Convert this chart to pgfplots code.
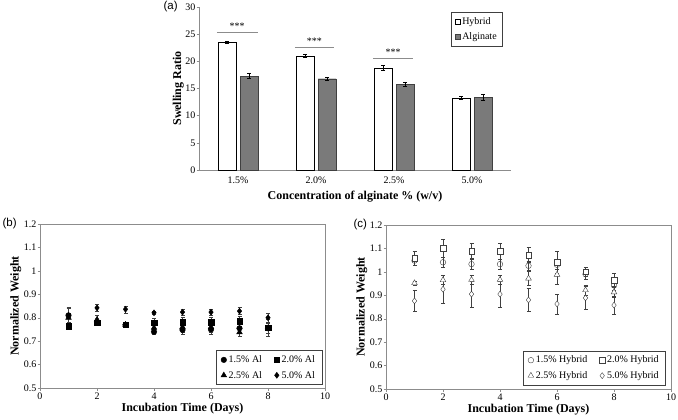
\documentclass[border=0pt]{standalone}
\usepackage{pgfplots}
\pgfplotsset{compat=1.18}
\usepackage{fontspec}
\setmainfont{Liberation Serif}
\newfontfamily\arialfont{Liberation Sans}
\definecolor{axgray}{HTML}{8C8C8C}
\definecolor{bargray}{HTML}{7A7A7A}
\definecolor{mkgray}{HTML}{404040}
\pgfplotsset{
  every axis/.append style={
    scale only axis,
    /pgf/number format/assume math mode=true,
    tick label style={font=\fontsize{10}{11}\selectfont},
    yticklabel style={inner xsep=1pt},
    xticklabel style={inner ysep=2pt},
    label style={font=\fontsize{12}{13}\selectfont\bfseries},
    tick align=outside,
    major tick length=2.5pt,
    every tick/.style={axgray},
  },
  ebar/.style={error bars/.cd, y dir=both, y explicit,
    error bar style={#1, line width=0.5pt},
    error mark options={rotate=90, mark size=2pt, #1, line width=0.5pt}},
}
\begin{document}
\begin{tikzpicture}
\useasboundingbox (0pt,0pt) rectangle (678pt,-420pt);
% ---------------- (a)
\begin{axis}[
  at={(199pt,-170pt)}, anchor=south west,
  width=312pt, height=163pt,
  ybar=4pt, bar width=18pt,
  xmin=-0.5, xmax=3.5, ymin=0, ymax=30,
  xtick={0,1,2,3}, xticklabels={1.5\%,2.0\%,2.5\%,5.0\%},
  minor xtick={-0.5,0.5,1.5,2.5,3.5},
  x tick style={draw=none}, minor x tick style={axgray},
  minor tick length=2.5pt,
  xticklabel style={inner ysep=4pt},
  ytick={0,5,10,15,20,25,30},
  axis x line*=bottom, axis y line*=left,
  axis line style={axgray},
  xlabel={Concentration of alginate \% (w/v)},
  ylabel={Swelling Ratio},
  xlabel style={yshift=0pt},
  ylabel style={yshift=-3pt},
  legend style={at={(0.974,0.97)}, anchor=north east, draw=mkgray,
    font=\fontsize{10}{11}\selectfont, row sep=3pt, inner xsep=4pt, inner ysep=3pt,
    cells={anchor=west}},
  legend image code/.code={\draw[#1] (0pt,-2.5pt) rectangle (5pt,2.5pt);},
]
\addplot[fill=white, draw=black, ebar=black] coordinates {
  (0,23.5) +- (0,0.2) (1,21.0) +- (0,0.3) (2,18.8) +- (0,0.4) (3,13.3) +- (0,0.3)};
\addplot[fill=bargray, draw=mkgray, ebar=black] coordinates {
  (0,17.3) +- (0,0.5) (1,16.8) +- (0,0.3) (2,15.8) +- (0,0.3) (3,13.4) +- (0,0.5)};
\legend{Hybrid, Alginate}
\draw[axgray] (axis cs:-0.27,25.3) -- (axis cs:0.25,25.3);
\draw[axgray] (axis cs:0.73,22.65) -- (axis cs:1.23,22.65);
\draw[axgray] (axis cs:1.73,20.5) -- (axis cs:2.24,20.5);
\node[font=\fontsize{10}{11}\selectfont] at (axis cs:-0.01,26.4) {***};
\node[font=\fontsize{10}{11}\selectfont] at (axis cs:0.98,23.75) {***};
\node[font=\fontsize{10}{11}\selectfont] at (axis cs:1.99,21.6) {***};
\end{axis}
\node[font=\arialfont\fontsize{11.5}{12}\selectfont, anchor=west] at (160pt,-7pt) {(a)};
% ---------------- (b)
\begin{axis}[
  at={(40pt,-388pt)}, anchor=south west,
  width=285pt, height=164pt,
  xmin=0, xmax=10, ymin=0.5, ymax=1.2,
  xtick={0,2,4,6,8,10},
  ytick={0.5,0.6,0.7,0.8,0.9,1,1.1,1.2},
  tick pos=left,
  axis line style={axgray},
  xlabel={Incubation Time (Days)},
  ylabel={Normalized Weight},
  xlabel style={yshift=2pt},
  ylabel style={yshift=-2pt},
  legend columns=2,
  legend style={at={(0.99,0.02)}, anchor=south east, draw=mkgray,
    font=\fontsize{10}{11}\selectfont, /tikz/every even column/.append style={column sep=10pt},
    row sep=3pt, inner xsep=5pt, inner ysep=3pt, cells={anchor=west}},
]
\addplot[only marks, mark=*, mark size=2.8pt, black, ebar=mkgray] coordinates {
 (1,0.810) +- (0,0.030) (2,0.780) +- (0,0.010) (3,0.770) +- (0,0.010) (4,0.740) +- (0,0.010)
 (5,0.748) +- (0,0.020) (6,0.750) +- (0,0.020) (7,0.755) +- (0,0.020) (8,0.755) +- (0,0.020)};
\addplot[only marks, mark=square*, mark size=2.8pt, black, ebar=mkgray] coordinates {
 (1,0.764) +- (0,0.010) (2,0.778) +- (0,0.010) (3,0.770) +- (0,0.010) (4,0.778) +- (0,0.020)
 (5,0.781) +- (0,0.020) (6,0.781) +- (0,0.020) (7,0.785) +- (0,0.020) (8,0.757) +- (0,0.035)};
\addplot[only marks, mark=triangle*, mark size=3.3pt, black, ebar=mkgray] coordinates {
 (1,0.800) +- (0,0.020) (2,0.792) +- (0,0.020) (3,0.770) +- (0,0.010) (4,0.757) +- (0,0.020)
 (5,0.760) +- (0,0.020) (6,0.760) +- (0,0.020) (7,0.738) +- (0,0.015) (8,0.755) +- (0,0.020)};
\addplot[only marks, mark=diamond*, mark size=3pt, black, ebar=mkgray] coordinates {
 (1,0.810) +- (0,0.035) (2,0.842) +- (0,0.015) (3,0.836) +- (0,0.015) (4,0.821) +- (0,0.005)
 (5,0.824) +- (0,0.012) (6,0.824) +- (0,0.012) (7,0.828) +- (0,0.015) (8,0.800) +- (0,0.020)};
\legend{1.5\% Al, 2.0\% Al, 2.5\% Al, 5.0\% Al}
\end{axis}
\node[font=\arialfont\fontsize{11.5}{12}\selectfont, anchor=west] at (-1pt,-224pt) {(b)};
% ---------------- (c)
\begin{axis}[
  at={(386pt,-389pt)}, anchor=south west,
  width=285pt, height=164pt,
  xmin=0, xmax=10, ymin=0.5, ymax=1.2,
  xtick={0,2,4,6,8,10},
  ytick={0.5,0.6,0.7,0.8,0.9,1,1.1,1.2},
  tick pos=left,
  axis line style={axgray},
  xlabel={Incubation Time (Days)},
  ylabel={Normalized Weight},
  xlabel style={yshift=2pt},
  ylabel style={yshift=-2pt},
  legend columns=2,
  legend style={at={(0.982,0.024)}, anchor=south east, draw=mkgray,
    font=\fontsize{10}{11}\selectfont, /tikz/every even column/.append style={column sep=10pt},
    row sep=3pt, inner xsep=5pt, inner ysep=3pt, cells={anchor=west}},
]
\addplot[only marks, mark=o, mark size=2.8pt, mkgray, mark options={fill=white}, ebar=mkgray] coordinates {
 (1,1.048) +- (0,0.020) (2,1.041) +- (0,0.020) (3,1.033) +- (0,0.020) (4,1.033) +- (0,0.020)
 (5,1.026) +- (0,0.020) (6,1.030) +- (0,0.020) (7,0.990) +- (0,0.020) (8,0.942) +- (0,0.020)};
\addplot[only marks, mark=square*, mark size=2.8pt, mkgray, mark options={fill=white}, ebar=mkgray] coordinates {
 (1,1.058) +- (0,0.030) (2,1.101) +- (0,0.040) (3,1.089) +- (0,0.033) (4,1.087) +- (0,0.035)
 (5,1.072) +- (0,0.033) (6,1.040) +- (0,0.048) (7,1.000) +- (0,0.020) (8,0.965) +- (0,0.028)};
\addplot[only marks, mark=triangle*, mark size=3.3pt, mkgray, mark options={fill=white}, ebar=mkgray] coordinates {
 (1,0.952) +- (0,0.010) (2,0.965) +- (0,0.020) (3,0.966) +- (0,0.020) (4,0.966) +- (0,0.020)
 (5,0.972) +- (0,0.030) (6,0.988) +- (0,0.040) (7,0.922) +- (0,0.020) (8,0.913) +- (0,0.020)};
\addplot[only marks, mark=diamond*, mark size=3pt, mkgray, mark options={fill=white}, ebar=mkgray] coordinates {
 (1,0.876) +- (0,0.044) (2,0.926) +- (0,0.058) (3,0.905) +- (0,0.055) (4,0.905) +- (0,0.055)
 (5,0.880) +- (0,0.050) (6,0.863) +- (0,0.043) (7,0.889) +- (0,0.048) (8,0.858) +- (0,0.040)};
\legend{1.5\% Hybrid, 2.0\% Hybrid, 2.5\% Hybrid, 5.0\% Hybrid}
\end{axis}
\node[font=\arialfont\fontsize{11.5}{12}\selectfont, anchor=west] at (350pt,-225pt) {(c)};
\end{tikzpicture}
\end{document}
